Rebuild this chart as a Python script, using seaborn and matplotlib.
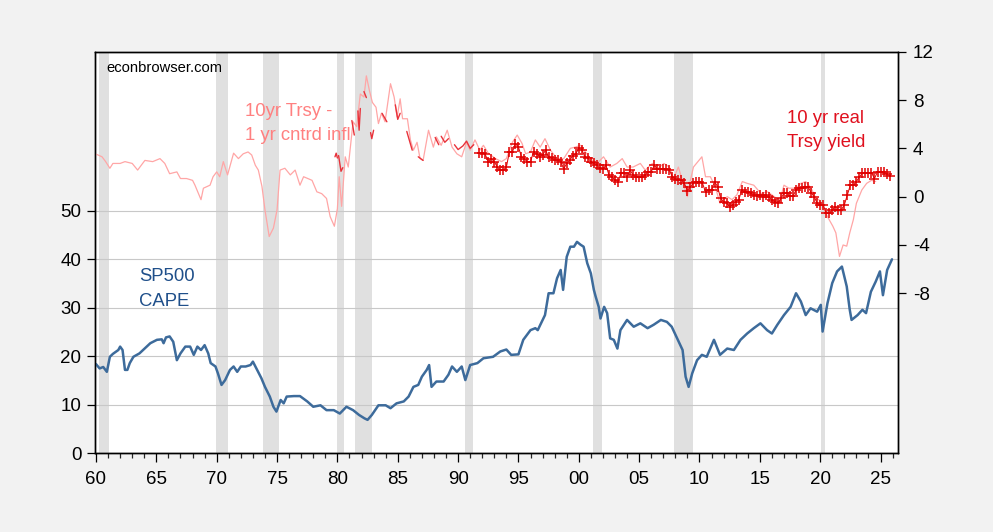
import numpy as np
import pandas as pd
import matplotlib
matplotlib.use("Agg")
import matplotlib.pyplot as plt
from matplotlib.ticker import FixedLocator, MultipleLocator
import seaborn as sns

# Shiller CAPE (left axis)
cape_year = [1960.0, 1960.3, 1960.6, 1960.9, 1961.15, 1961.4, 1961.85, 1962.0, 1962.2, 1962.4,
             1962.6, 1962.8, 1963.1, 1963.6, 1963.9, 1964.5, 1965.05, 1965.45, 1965.6, 1965.8,
             1966.1, 1966.4, 1966.7, 1967.0, 1967.4, 1967.8, 1968.1, 1968.4, 1968.7, 1969.0,
             1969.3, 1969.5, 1969.9, 1970.1, 1970.4, 1970.7, 1971.1, 1971.4, 1971.7, 1972.0,
             1972.4, 1972.8, 1973.0, 1973.5, 1973.7, 1974.0, 1974.4, 1974.7, 1974.95, 1975.3,
             1975.55, 1975.8, 1976.4, 1976.9, 1977.5, 1978.0, 1978.6, 1979.1, 1979.7, 1980.2,
             1980.75, 1981.3, 1981.8, 1982.25, 1982.5, 1982.85, 1983.4, 1984.0, 1984.4, 1984.9,
             1985.5, 1985.9, 1986.3, 1986.7, 1987.0, 1987.4, 1987.6, 1987.8, 1988.2, 1988.8,
             1989.2, 1989.5, 1989.9, 1990.3, 1990.6, 1991.0, 1991.6, 1992.1, 1992.9, 1993.5,
             1994.0, 1994.4, 1995.0, 1995.4, 1996.0, 1996.4, 1996.6, 1997.0, 1997.2, 1997.5,
             1997.9, 1998.2, 1998.5, 1998.7, 1999.0, 1999.3, 1999.6, 1999.85, 2000.15, 2000.4,
             2000.7, 2001.0, 2001.25, 2001.4, 2001.65, 2001.8, 2002.1, 2002.35, 2002.6, 2002.9,
             2003.2, 2003.45, 2004.0, 2004.55, 2005.1, 2005.7, 2006.2, 2006.8, 2007.3, 2007.7,
             2008.15, 2008.6, 2008.85, 2009.1, 2009.4, 2009.8, 2010.2, 2010.6, 2011.2, 2011.7,
             2012.3, 2012.85, 2013.4, 2013.95, 2014.5, 2015.05, 2015.6, 2016.0, 2016.45, 2017.0,
             2017.55, 2018.0, 2018.4, 2018.8, 2019.2, 2019.75, 2020.05, 2020.2, 2020.6, 2021.0,
             2021.4, 2021.8, 2022.2, 2022.45, 2022.6, 2023.1, 2023.5, 2023.8, 2024.2, 2024.6,
             2024.95, 2025.2, 2025.55, 2025.95]
cape_val = [18.4, 17.5, 17.8, 16.8, 19.9, 20.5, 21.3, 22.0, 21.3, 17.2,
            17.2, 18.6, 19.9, 20.6, 21.3, 22.7, 23.4, 23.5, 22.7, 23.9,
            24.1, 23.0, 19.2, 20.6, 22.0, 22.0, 20.3, 22.0, 21.3, 22.3,
            20.6, 18.6, 17.9, 16.5, 14.1, 15.1, 17.2, 17.9, 16.8, 17.9,
            17.9, 18.2, 18.9, 16.5, 15.5, 13.7, 11.7, 9.6, 8.6, 11.0,
            10.3, 11.7, 11.8, 11.8, 10.7, 9.6, 9.9, 8.9, 8.9, 8.2,
            9.6, 8.9, 7.9, 7.2, 6.9, 7.9, 9.9, 9.9, 9.3, 10.3,
            10.7, 11.7, 13.7, 14.1, 15.8, 17.2, 18.2, 13.7, 14.8, 14.8,
            16.2, 17.9, 16.8, 17.9, 15.1, 18.2, 18.6, 19.6, 19.9, 21.0,
            21.4, 20.3, 20.4, 23.4, 25.4, 25.8, 25.4, 27.5, 28.5, 33.0,
            33.0, 36.1, 37.8, 33.7, 40.5, 42.6, 42.6, 43.6, 43.0, 42.6,
            39.2, 37.1, 33.7, 32.3, 30.2, 27.8, 30.2, 28.9, 23.7, 23.4,
            21.6, 25.4, 27.5, 26.1, 26.8, 25.8, 26.5, 27.5, 27.1, 26.1,
            23.7, 21.3, 15.8, 13.7, 16.5, 19.2, 20.3, 19.9, 23.4, 20.3,
            21.6, 21.3, 23.4, 24.7, 25.8, 26.8, 25.4, 24.7, 26.5, 28.5,
            30.2, 33.0, 31.3, 28.5, 29.9, 29.2, 30.6, 25.1, 30.9, 35.1,
            37.5, 38.5, 34.4, 29.6, 27.5, 28.5, 29.6, 28.9, 33.3, 35.4,
            37.5, 32.6, 37.8, 40.0]

# 10yr Treasury minus 1yr centered inflation (right axis)
infl_year = [1960.05, 1960.5, 1960.8, 1961.15, 1961.4, 1962.0, 1962.4, 1963.0, 1963.45, 1964.05,
             1964.7, 1965.3, 1965.7, 1966.1, 1966.7, 1967.0, 1967.5, 1968.0, 1968.2, 1968.7,
             1968.9, 1969.45, 1969.7, 1970.0, 1970.25, 1970.55, 1970.9, 1971.4, 1971.8, 1972.2,
             1972.6, 1972.9, 1973.2, 1973.45, 1973.75, 1974.0, 1974.35, 1974.7, 1975.0, 1975.25,
             1975.65, 1976.1, 1976.5, 1976.9, 1977.2, 1977.9, 1978.3, 1978.7, 1979.1, 1979.4,
             1979.75, 1980.0, 1980.15, 1980.35, 1980.65, 1980.9, 1981.3, 1981.6, 1981.9, 1982.2,
             1982.4, 1982.65, 1982.9, 1983.2, 1983.4, 1983.65, 1983.95, 1984.4, 1984.7, 1984.95,
             1985.2, 1985.4, 1985.8, 1986.05, 1986.3, 1986.6, 1986.85, 1987.1, 1987.55, 1987.95,
             1988.2, 1988.6, 1989.1, 1989.5, 1989.9, 1990.3, 1990.7, 1991.0, 1991.4, 1991.8,
             1992.1, 1992.5, 1993.1, 1993.6, 1994.0, 1994.5, 1994.9, 1995.3, 1995.6, 1996.0,
             1996.4, 1996.8, 1997.2, 1997.65, 1998.2, 1998.75, 1999.3, 1999.7, 2000.15, 2000.55,
             2000.95, 2001.5, 2002.05, 2002.6, 2003.15, 2003.6, 2004.0, 2004.5, 2005.1, 2005.5,
             2006.1, 2006.5, 2007.05, 2007.5, 2007.85, 2008.25, 2008.7, 2009.0, 2009.25, 2009.5,
             2010.2, 2010.5, 2010.9, 2011.3, 2011.7, 2012.3, 2012.7, 2013.1, 2013.55, 2013.95,
             2014.5, 2015.1, 2015.65, 2016.2, 2016.65, 2017.0, 2017.4, 2018.0, 2018.4, 2018.8,
             2019.25, 2019.65, 2019.9, 2020.2, 2020.6, 2021.05, 2021.3, 2021.6, 2021.9, 2022.2,
             2022.45, 2022.75, 2023.0, 2023.45, 2023.85, 2024.25, 2024.6]
infl_val = [3.5, 3.3, 2.9, 2.35, 2.75, 2.75, 2.9, 2.75, 2.2, 3.0,
            2.9, 3.15, 2.75, 1.9, 2.05, 1.5, 1.5, 1.35, 0.95, -0.25,
            0.7, 0.95, 1.65, 2.05, 1.65, 2.9, 1.8, 3.6, 3.15, 3.55,
            3.7, 3.45, 2.6, 2.2, 0.85, -1.1, -3.3, -2.6, -1.1, 2.2,
            2.35, 1.8, 2.2, 0.95, 1.65, 1.35, 0.4, 0.25, -0.15, -1.65,
            -2.45, -1.0, 1.65, -0.8, 3.3, 2.45, 6.2, 5.8, 8.5, 8.25,
            10.0, 8.8, 7.8, 7.4, 6.05, 6.9, 6.2, 9.35, 8.25, 6.6,
            8.1, 6.45, 6.45, 4.7, 3.85, 4.5, 3.15, 3.0, 5.5, 4.1,
            4.95, 4.25, 5.5, 4.1, 3.55, 3.3, 4.5, 3.85, 4.7, 3.85,
            4.25, 3.6, 3.15, 2.9, 3.15, 4.5, 5.1, 4.4, 3.55, 3.7,
            4.7, 4.1, 4.8, 3.85, 3.15, 3.15, 4.0, 4.1, 4.25, 3.7,
            3.15, 2.75, 3.3, 2.45, 2.75, 3.15, 2.45, 2.45, 2.75, 2.2,
            2.75, 2.3, 2.75, 2.45, 1.5, 2.45, 0.95, 0.0, 1.35, 2.45,
            3.3, 1.65, 1.65, 0.85, -0.55, 0.0, -0.25, 0.15, 1.25, 1.1,
            0.95, 0.25, 0.4, 0.0, -0.4, 0.95, 0.7, 0.7, 1.1, 1.25,
            0.7, -0.15, -0.25, -0.8, -1.65, -2.45, -3.0, -4.95, -4.0, -4.1,
            -3.0, -1.9, -0.55, 0.55, 1.1, 1.35, 1.25]

# early real yield pieces (1980s, with gaps)
early_year = [1979.8, 1979.9, 1980.0, 1980.1, 1980.3, 1980.45, 1981.2, 1981.4,
              1981.7, 1981.8, 1981.9, 1982.2, 1982.4, 1982.75, 1982.85, 1983.0,
              1983.7, 1984.1, 1984.8, 1985.0, 1985.2, 1985.75, 1986.2, 1986.7, 1987.1,
              1988.1, 1988.4, 1988.6, 1988.9, 1989.2,
              1989.7, 1990.0, 1990.4, 1990.7, 1991.0, 1991.3]
early_val = [3.3, 3.6, 3.2, 3.4, 2.1, 2.4, 6.3, 5.1,
             7.1, 5.5, 7.3, 8.7, 8.2, 5.3, 4.8, 5.5,
             6.9, 6.2, 7.6, 6.4, 6.9, 5.4, 3.85, 3.3, 3.0,
             4.9, 4.3, 5.0, 4.5, 4.8,
             4.3, 3.9, 4.2, 4.6, 4.0, 4.3]
early_seg = [1, 1, 1, 2, 2, 2, 3, 3,
             4, 4, 4, 5, 5, 6, 6, 6,
             7, 7, 8, 8, 8, 9, 9, 10, 10,
             11, 11, 12, 12, 12,
             13, 13, 13, 13, 13, 13]

# 10 yr real Treasury yield, quarterly from 1991Q4
real_start = 1991.75
real_val = [3.6,
            3.6, 3.5, 2.9, 3.15,
            2.9, 2.45, 2.2, 2.2,
            2.45, 3.7, 3.7, 4.4,
            4.1, 3.3, 3.1, 2.9,
            2.9, 3.7, 3.55, 3.3,
            3.45, 3.85, 3.3, 3.2,
            3.05, 3.0, 2.9, 2.3,
            2.75, 3.0, 3.4, 3.55,
            4.0, 3.9, 3.3, 3.2,
            2.9, 2.75, 2.6, 2.35,
            2.3, 2.6, 1.8, 1.6,
            1.4, 1.24, 1.93, 1.93,
            1.65, 2.2, 1.8, 1.65,
            1.65, 1.65, 1.78, 2.05,
            2.06, 2.6, 2.3, 2.3,
            2.3, 2.3, 2.2, 1.65,
            1.5, 1.37, 1.37, 1.1,
            0.5, 0.83, 1.1, 1.24,
            1.24, 1.1, 0.41, 0.55,
            0.55, 1.24, 0.83, -0.14,
            -0.41, -0.55, -0.82, -0.68,
            -0.41, -0.27, 0.55, 0.41,
            0.41, 0.27, 0.14, 0.05,
            0.14, 0.0, 0.14, 0.0,
            -0.27, -0.41, -0.55, -0.14,
            0.27, 0.27, 0.05, 0.05,
            0.55, 0.69, 0.69, 0.83,
            0.83, 0.33, 0.0, -0.55,
            -0.68, -0.68, -1.37, -1.37,
            -1.1, -0.82, -1.1, -1.1,
            -0.68, 0.14, 0.96, 0.96,
            1.24, 1.65, 1.93, 1.93,
            1.93, 1.98, 1.5, 2.06,
            2.06, 2.0, 1.85, 1.75]

# NBER recessions
rec_start = [1960.25, 1969.92, 1973.83, 1980.0, 1981.5, 1990.55, 2001.17, 2007.92, 2020.08]
rec_end = [1961.1, 1970.95, 1975.2, 1980.58, 1982.88, 1991.25, 2001.9, 2009.5, 2020.4]

x_ticks = list(range(1960, 2030, 5))
x_labels = [f"{y % 100:02d}" for y in x_ticks]

cape = pd.DataFrame({"year": cape_year, "cape": cape_val})
infl = pd.DataFrame({"year": infl_year, "rate": infl_val})
early = pd.DataFrame({"year": early_year, "rate": early_val, "seg": early_seg})
real = pd.DataFrame({"year": real_start + 0.25 * np.arange(len(real_val)), "rate": real_val})

sns.set_theme(style="white")
plt.rcParams["font.family"] = ["Liberation Sans", "DejaVu Sans"]
plt.rcParams["axes.unicode_minus"] = False

fig = plt.figure(figsize=(9.93, 5.32), dpi=100, facecolor="#f2f2f2")
ax = fig.add_axes([0.0957, 0.1479, 0.8089, 0.7549])
ax.set_facecolor("white")

for a, b in zip(rec_start, rec_end):
    ax.axvspan(a, b, color="#e0e0e0", lw=0, zorder=0.3)

sns.lineplot(data=cape, x="year", y="cape", ax=ax, color="#3d6b9b", lw=1.8, zorder=3)

ax.set_xlim(1959.92, 2026.47)
ax.set_ylim(0, 82.8)
ax.set_yticks([0, 10, 20, 30, 40, 50])
ax.yaxis.grid(True, color="#c8c8c8", lw=0.8)
ax.set_axisbelow(True)
ax.xaxis.set_major_locator(FixedLocator(x_ticks))
ax.set_xticklabels(x_labels)
ax.xaxis.set_minor_locator(MultipleLocator(1))
ax.set_xlabel("")
ax.set_ylabel("")

ax2 = ax.twinx()
sns.lineplot(data=infl, x="year", y="rate", ax=ax2, color="#ffa6a6", lw=0.9)
sns.lineplot(data=early, x="year", y="rate", units="seg", estimator=None, ax=ax2,
             color="#e8323a", lw=1.0)
sns.lineplot(data=real, x="year", y="rate", ax=ax2, color="#e00000", lw=0.7,
             marker="+", markersize=7, markeredgewidth=1.1, markeredgecolor="#e00000")
ax2.set_ylim(-21.25, 12)
ax2.set_yticks([-8, -4, 0, 4, 8, 12])
ax2.set_ylabel("")

for a in (ax, ax2):
    for s in a.spines.values():
        s.set_visible(True)
        s.set_color("black")
        s.set_linewidth(1.0)

ax.tick_params(axis="x", which="major", direction="out", length=6.5, width=0.9,
               labelsize=13.5, pad=6, colors="black", bottom=True)
ax.tick_params(axis="x", which="minor", direction="out", length=3.6, width=0.9, bottom=True)
ax.tick_params(axis="y", direction="out", length=5.8, width=0.9, labelsize=13.5,
               pad=4, colors="black", left=True)
ax2.tick_params(axis="y", direction="out", length=5.6, width=0.9, labelsize=13.5,
                pad=5, colors="black", right=True)

# annotations (axes fraction)
ax.text(0.0137, 0.950, "econbrowser.com", transform=ax.transAxes, fontsize=10.6,
        color="black", va="baseline", ha="left")
ax.text(0.1867, 0.840, "10yr Trsy -", transform=ax.transAxes, fontsize=13.3,
        color="#ff8080", va="baseline", ha="left")
ax.text(0.1867, 0.780, "1 yr cntrd infl", transform=ax.transAxes, fontsize=13.3,
        color="#ff8080", va="baseline", ha="left")
ax.text(0.861, 0.823, "10 yr real", transform=ax.transAxes, fontsize=13.3,
        color="#e0101e", va="baseline", ha="left")
ax.text(0.861, 0.763, "Trsy yield", transform=ax.transAxes, fontsize=13.3,
        color="#e0101e", va="baseline", ha="left")
ax.text(0.0551, 0.429, "SP500", transform=ax.transAxes, fontsize=13.3,
        color="#1f4f8a", va="baseline", ha="left")
ax.text(0.0551, 0.367, "CAPE", transform=ax.transAxes, fontsize=13.3,
        color="#1f4f8a", va="baseline", ha="left")

fig.savefig("out.png", dpi=100, facecolor=fig.get_facecolor())
